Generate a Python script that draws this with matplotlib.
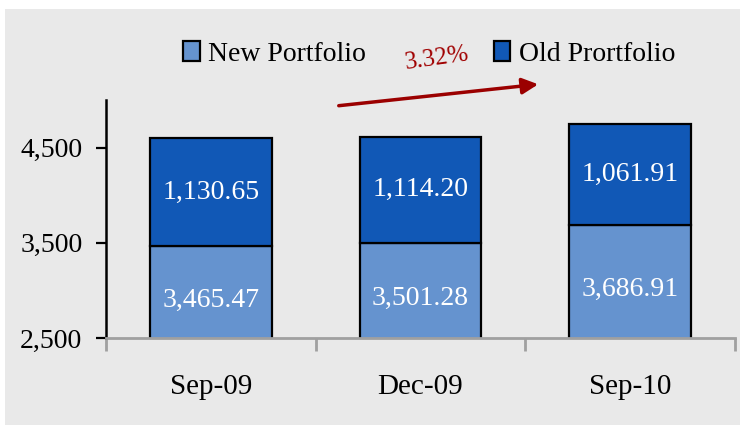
import matplotlib.pyplot as plt
from matplotlib.patches import Rectangle
import numpy as np

plt.rcParams['font.family'] = ['Liberation Serif', 'DejaVu Serif']

# data
periods = ["Sep-09", "Dec-09", "Sep-10"]
new_portfolio = [3465.47, 3501.28, 3686.91]
old_portfolio = [1130.65, 1114.20, 1061.91]
growth_label = "3.32%"
y_ticks = [2500, 3500, 4500]

c_new = "#6593cf"
c_old = "#1158b6"
bg = "#e9e9e9"

fig = plt.figure(figsize=(7.4, 4.25), dpi=100)
fig.patch.set_facecolor("white")
fig.patches.append(Rectangle((5 / 740, 0), 1, 1 - 9 / 425, transform=fig.transFigure,
                             facecolor=bg, edgecolor="none", zorder=-10))

ax = fig.add_axes([106 / 740, 1 - 338 / 425, 629 / 740, 238 / 425])
ax.set_facecolor("none")

x = np.arange(len(periods))
w = 0.58
new = np.array(new_portfolio)
old = np.array(old_portfolio)
ax.bar(x, new, w, color=c_new, edgecolor="black", linewidth=1.6, label="New Portfolio")
ax.bar(x, old, w, bottom=new, color=c_old, edgecolor="black", linewidth=1.6, label="Old Prortfolio")

ax.set_ylim(2500, 5000)
ax.set_xlim(-0.5, 2.5)

# value labels
for i in range(len(periods)):
    ax.annotate(f"{new[i]:,.2f}", (x[i], (2500 + new[i]) / 2), xytext=(0, -6),
                textcoords="offset points", ha="center", va="center",
                color="white", fontsize=20)
    ax.annotate(f"{old[i]:,.2f}", (x[i], new[i] + old[i] / 2), xytext=(0, 0),
                textcoords="offset points", ha="center", va="center",
                color="white", fontsize=20)

# axes styling
for s in ["top", "right"]:
    ax.spines[s].set_visible(False)
ax.spines["left"].set_linewidth(1.8)
ax.spines["bottom"].set_color("#a0a0a0")
ax.spines["bottom"].set_linewidth(2)

ax.set_yticks(y_ticks)
ax.set_yticklabels([f"{v:,}" for v in y_ticks], fontsize=20)
ax.tick_params(axis="y", length=7, width=1.6, pad=10)

ax.set_xticks(x)
ax.set_xticklabels(periods, fontsize=21)
ax.tick_params(axis="x", which="major", length=0, pad=26)
ax.set_xticks([-0.5, 0.5, 1.5, 2.5], minor=True)
ax.tick_params(axis="x", which="minor", length=9, width=2, color="#a0a0a0")

# legend
fig.legend(loc="center", bbox_to_anchor=(429 / 740, 1 - 54 / 425), ncol=2,
           frameon=False, fontsize=20, handlelength=0.6, handleheight=0.75,
           handletextpad=0.3, columnspacing=4.6)

# growth arrow
fig.add_artist(plt.Annotation("", xy=(541, 425 - 84), xytext=(336, 425 - 106),
                              xycoords="figure pixels", textcoords="figure pixels",
                              arrowprops=dict(arrowstyle="-|>", color="#9b0000",
                                              lw=2.5, mutation_scale=24)))
fig.text(437 / 740, 1 - 59 / 425, growth_label, color="#a00000", fontsize=18,
         rotation=8, ha="center", va="center")

fig.savefig("out.png", dpi=100, facecolor=fig.get_facecolor())
